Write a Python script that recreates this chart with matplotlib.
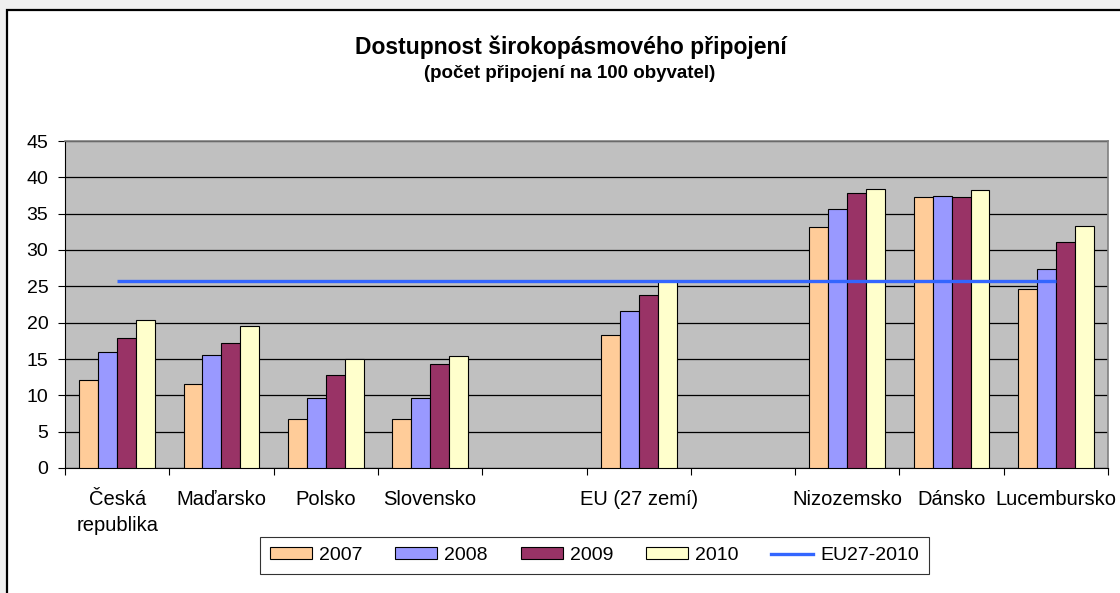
import numpy as np
import matplotlib
matplotlib.use('Agg')
import matplotlib.pyplot as plt
from matplotlib.patches import Rectangle, Patch
from matplotlib.lines import Line2D

plt.rcParams['font.family'] = ['Liberation Sans', 'DejaVu Sans']

# data (empty slots are gaps in the category axis)
categories = ['Česká\nrepublika', 'Maďarsko', 'Polsko', 'Slovensko', '',
              'EU (27 zemí)', '', 'Nizozemsko', 'Dánsko', 'Lucembursko']
years = ['2007', '2008', '2009', '2010']
v2007 = [12.1, 11.6, 6.8, 6.8, np.nan, 18.3, np.nan, 33.1, 37.3, 24.7]
v2008 = [15.9, 15.6, 9.7, 9.7, np.nan, 21.6, np.nan, 35.7, 37.5, 27.4]
v2009 = [17.9, 17.2, 12.8, 14.3, np.nan, 23.8, np.nan, 37.8, 37.3, 31.1]
v2010 = [20.3, 19.6, 15.0, 15.4, np.nan, 25.8, np.nan, 38.4, 38.2, 33.3]
eu27_2010 = [25.8] * 10

colors = ['#FFCC99', '#9999FF', '#993366', '#FFFFCC']
line_color = '#3366FF'

W, H = 1120, 593
fig = plt.figure(figsize=(W / 100, H / 100), dpi=100)
fig.patch.set_facecolor('#F0F0F0')

# white chart area with black frame
fig.patches.append(Rectangle((7 / W, -0.05), 1.2, (H - 10) / H + 0.05,
                             transform=fig.transFigure, facecolor='white',
                             edgecolor='black', linewidth=1.6, zorder=-5))

ax = fig.add_axes([65 / W, (H - 468) / H, (1108 - 65) / W, (468 - 141) / H])
ax.set_facecolor('#C0C0C0')

x = np.arange(len(categories))
w = 1 / 5.5
for k, vals in enumerate([v2007, v2008, v2009, v2010]):
    ax.bar(x + (k - 1.5) * w, vals, width=w, color=colors[k],
           edgecolor='black', linewidth=0.8, zorder=3)

ax.plot(x, eu27_2010, color=line_color, linewidth=2.4, zorder=4,
        solid_capstyle='butt')

ax.set_xlim(-0.5, len(categories) - 0.5)
ax.set_ylim(0, 45)
ax.set_yticks(np.arange(0, 46, 5))
ax.yaxis.grid(True, color='black', linewidth=0.9, zorder=1)
ax.set_axisbelow(True)

ax.set_xticks(np.arange(-0.5, len(categories), 1))
ax.set_xticklabels([])
ax.set_xticks(x, minor=True)
ax.set_xticklabels(categories, minor=True, fontsize=14.5, linespacing=1.45)
ax.tick_params(axis='x', which='major', length=5, width=0.8, direction='out')
ax.tick_params(axis='x', which='minor', length=0, pad=16)
ax.tick_params(axis='y', length=5, width=0.8, labelsize=14, pad=7)

for s in ['top', 'right']:
    ax.spines[s].set_color('#808080')
    ax.spines[s].set_linewidth(1.2)
ax.spines['left'].set_color('black')
ax.spines['bottom'].set_color('black')

fig.text(571 / W, 1 - 47 / H, 'Dostupnost širokopásmového připojení',
         ha='center', va='center', fontsize=16.5, fontweight='bold')
fig.text(570 / W, 1 - 73 / H, '(počet připojení na 100 obyvatel)',
         ha='center', va='center', fontsize=13.5, fontweight='bold')

handles = [Patch(facecolor=c, edgecolor='black', linewidth=0.8) for c in colors]
handles.append(Line2D([], [], color=line_color, linewidth=2.4))
leg = fig.legend(handles, years + ['EU27-2010'], ncol=5,
                 loc='center', bbox_to_anchor=(594.5 / W, 1 - 555.5 / H),
                 fontsize=14, frameon=True, fancybox=False,
                 handlelength=2.15, handleheight=0.57, handletextpad=0.36,
                 columnspacing=1.7, borderpad=0.5, borderaxespad=0)
leg.get_frame().set_edgecolor('black')
leg.get_frame().set_linewidth(0.8)

fig.savefig('out.png', dpi=100, facecolor=fig.get_facecolor())
